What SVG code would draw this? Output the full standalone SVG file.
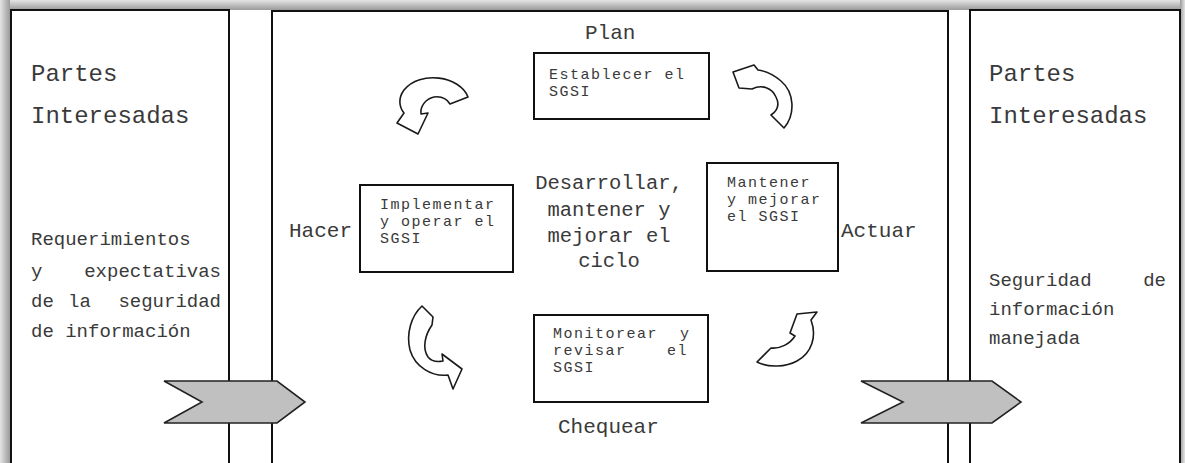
<svg xmlns="http://www.w3.org/2000/svg" width="1185" height="463" viewBox="0 0 1185 463">
  <defs>
    <linearGradient id="shadeTop" x1="0" y1="0" x2="0" y2="1">
      <stop offset="0" stop-color="#e4e4e4"/>
      <stop offset="1" stop-color="#9a9a9a"/>
    </linearGradient>
    <linearGradient id="shadeLeft" x1="0" y1="0" x2="1" y2="0">
      <stop offset="0" stop-color="#e4e4e4"/>
      <stop offset="1" stop-color="#9a9a9a"/>
    </linearGradient>
    <linearGradient id="shadeRight" x1="1" y1="0" x2="0" y2="0">
      <stop offset="0" stop-color="#e4e4e4"/>
      <stop offset="1" stop-color="#9a9a9a"/>
    </linearGradient>
  </defs>
  <style>
    .panel { fill: #ffffff; stroke: #111111; stroke-width: 2; }
    .box { fill: #ffffff; stroke: #111111; stroke-width: 2; }
    .chevron { fill: #c0c0c0; stroke: #222222; stroke-width: 1.6; stroke-linejoin: miter; }
    .cycle { fill: #ffffff; stroke: #1a1a1a; stroke-width: 1.6; stroke-linejoin: round; }
    text { font-family: "Liberation Mono", "Courier New", monospace; fill: #3a3a3a; }
    .title { font-size: 24px; }
    .side { font-size: 19px; }
    .stage { font-size: 21px; }
    .core { font-size: 20.5px; text-anchor: middle; }
    .step { font-size: 15px; letter-spacing: 1.5px; }
  </style>

  <!-- soft frame shading -->
  <rect x="0" y="0" width="1185" height="463" fill="#ffffff"/>
  <rect x="0" y="0" width="1185" height="10" fill="url(#shadeTop)"/>
  <rect x="0" y="0" width="10" height="463" fill="url(#shadeLeft)"/>
  <rect x="1180" y="0" width="5" height="463" fill="url(#shadeRight)"/>

  <!-- three vertical panels -->
  <g id="panel-left">
    <rect class="panel" x="11" y="10" width="218" height="470"/>
    <text class="title" x="31" y="81">Partes</text>
    <text class="title" x="31" y="123">Interesadas</text>
    <text class="side" x="31" y="245">Requerimientos</text>
    <text class="side" x="31" y="277">y</text>
    <text class="side" x="221" y="277" text-anchor="end">expectativas</text>
    <text class="side" x="31" y="307">de</text>
    <text class="side" x="68" y="307">la</text>
    <text class="side" x="221" y="307" text-anchor="end">seguridad</text>
    <text class="side" x="31" y="337">de información</text>
  </g>

  <g id="panel-center">
    <rect class="panel" x="272" y="11" width="676" height="470"/>
    <text class="stage" x="585" y="39">Plan</text>
    <text class="stage" x="289" y="237">Hacer</text>
    <text class="stage" x="841" y="237">Actuar</text>
    <text class="stage" x="558" y="433">Chequear</text>
  </g>

  <g id="panel-right">
    <rect class="panel" x="970" y="10" width="210" height="470"/>
    <text class="title" x="989" y="81">Partes</text>
    <text class="title" x="989" y="123">Interesadas</text>
    <text class="side" x="989" y="286">Seguridad</text>
    <text class="side" x="1166" y="286" text-anchor="end">de</text>
    <text class="side" x="989" y="315">información</text>
    <text class="side" x="989" y="344">manejada</text>
  </g>

  <!-- central statement -->
  <g id="cycle-core">
    <text class="core" x="609" y="189">Desarrollar,</text>
    <text class="core" x="609" y="216">mantener y</text>
    <text class="core" x="609" y="242">mejorar el</text>
    <text class="core" x="609" y="267">ciclo</text>
  </g>

  <!-- PDCA step boxes -->
  <g id="step-plan">
    <rect class="box" x="534" y="53" width="175" height="66"/>
    <text class="step" x="549" y="79">Establecer el</text>
    <text class="step" x="549" y="96">SGSI</text>
  </g>

  <g id="step-do">
    <rect class="box" x="360" y="185" width="153" height="87"/>
    <text class="step" x="380" y="209">Implementar</text>
    <text class="step" x="380" y="226">y operar el</text>
    <text class="step" x="380" y="243">SGSI</text>
  </g>

  <g id="step-act">
    <rect class="box" x="707" y="163" width="131" height="108"/>
    <text class="step" x="727" y="187">Mantener</text>
    <text class="step" x="727" y="204">y mejorar</text>
    <text class="step" x="727" y="221">el SGSI</text>
  </g>

  <g id="step-check">
    <rect class="box" x="534" y="315" width="174" height="87"/>
    <text class="step" x="553" y="338">Monitorear</text>
    <text class="step" x="680" y="338">y</text>
    <text class="step" x="553" y="355">revisar</text>
    <text class="step" x="667" y="355">el</text>
    <text class="step" x="553" y="372">SGSI</text>
  </g>

  <!-- connectors: curved cycle arrows and input/output chevrons -->
  <g id="connectors">
    <path class="cycle" d="M468,97 C460,76 420,70 404,90 C398,98 399,107 404,113 L397,123 L418,134 L428,113 L421,114 C420,107 425,99 434,97 C442,96 447,99 450,104 Z"/>
    <path class="cycle" d="M733,72 L739,88 L752,89 C762,84 772,88 776,97 C780,105 777,111 771,115 L784,128 C796,114 794,92 781,81 C774,75 766,71 758,70 L754,65 Z"/>
    <path class="cycle" d="M422,306 L433,317 L432,325 C425,335 422,348 428,357 C432,362 438,362 443,361 L442,354 L462,369 L453,389 L448,375 C432,377 415,367 410,350 C406,334 411,316 422,306 Z"/>
    <path class="cycle" d="M757,362 L771,348 C780,349 790,344 795,336 L790,333 L797,314 L817,312 L811,320 C817,336 812,353 797,361 C786,367 769,368 757,362 Z"/>

    <path class="chevron" d="M164,381 L277,381 L305,402 L277,423 L164,423 L202,402 Z"/>
    <path class="chevron" d="M861,381 L992,381 L1021,402 L992,423 L861,423 L903,402 Z"/>
  </g>
</svg>
